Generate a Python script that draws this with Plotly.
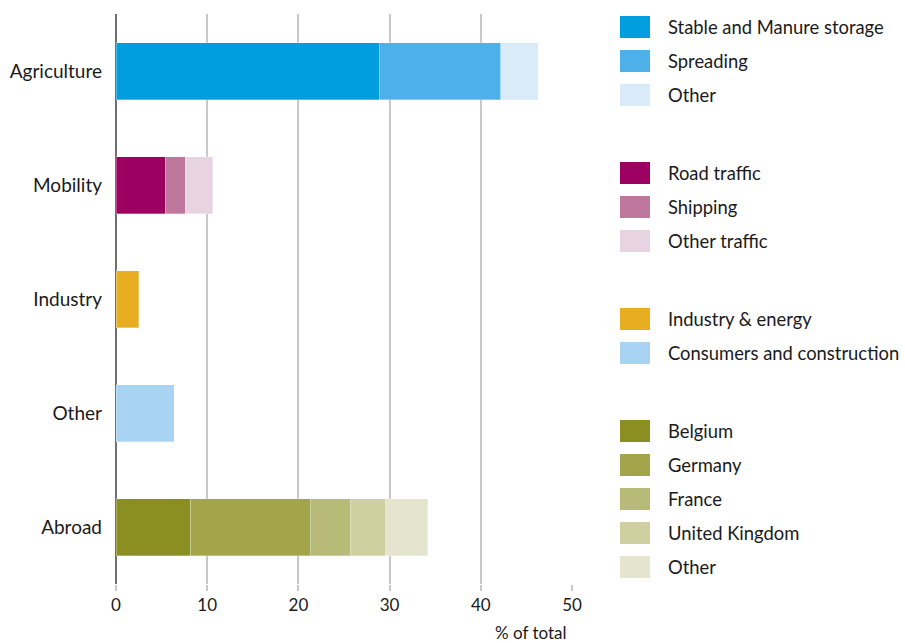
import plotly.graph_objects as go

categories = ["Agriculture", "Mobility", "Industry", "Other", "Abroad"]

agri_names = ["Stable and Manure storage", "Spreading", "Other"]
agri_values = [28.9, 13.3, 4.1]
agri_colors = ["#009DDF", "#4DB0E8", "#D9EAF9"]

mob_names = ["Road traffic", "Shipping", "Other traffic"]
mob_values = [5.4, 2.2, 3.0]
mob_colors = ["#9C0060", "#BE779D", "#E8D3E1"]

ind_names = ["Industry & energy"]
ind_values = [2.5]
ind_colors = ["#E8AE22"]

oth_names = ["Consumers and construction"]
oth_values = [6.4]
oth_colors = ["#A8D3F3"]

abr_names = ["Belgium", "Germany", "France", "United Kingdom", "Other"]
abr_values = [8.2, 13.1, 4.4, 3.9, 4.6]
abr_colors = ["#8B8F22", "#A2A549", "#B8BA77", "#CFCF9F", "#E5E5CF"]

groups = [
    ("Agriculture", agri_names, agri_values, agri_colors),
    ("Mobility", mob_names, mob_values, mob_colors),
    ("Industry", ind_names, ind_values, ind_colors),
    ("Other", oth_names, oth_values, oth_colors),
    ("Abroad", abr_names, abr_values, abr_colors),
]

# legend blocks (Industry and Other share one block)
legend_blocks = [
    list(zip(agri_names, agri_colors)),
    list(zip(mob_names, mob_colors)),
    list(zip(ind_names, ind_colors)) + list(zip(oth_names, oth_colors)),
    list(zip(abr_names, abr_colors)),
]

FONT = "Lato, 'Open Sans', sans-serif"
fig = go.Figure()
for cat, names, vals, cols in groups:
    for n, v, c in zip(names, vals, cols):
        fig.add_trace(go.Bar(
            y=[cat], x=[v], name=n, orientation="h",
            marker=dict(color=c, line=dict(color="rgba(255,255,255,0.5)", width=0.6)),
            width=0.5, showlegend=False,
        ))

W, H = 905, 643
L, R, T, B = 116, 333, 14, 59
pw = W - L - R
ph = H - T - B

def px_x(p):
    return (p - L) / pw

def px_y(p):
    return (H - B - p) / ph

shapes = []
annotations = []
row_y = 27
for block in legend_blocks:
    for n, c in block:
        shapes.append(dict(type="rect", xref="paper", yref="paper",
                           x0=px_x(620), x1=px_x(650), y0=px_y(row_y + 11), y1=px_y(row_y - 11),
                           fillcolor=c, line=dict(width=0)))
        annotations.append(dict(xref="paper", yref="paper", x=px_x(666), y=px_y(row_y),
                                text=n, showarrow=False, xanchor="left", yanchor="middle",
                                font=dict(family=FONT, size=18.4, color="#1a1a1a")))
        row_y += 34
    row_y += 44

annotations.append(dict(xref="paper", yref="paper", x=px_x(569), y=px_y(632),
                        text="% of total", showarrow=False, xanchor="right", yanchor="middle",
                        font=dict(family=FONT, size=17, color="#1a1a1a")))

fig.update_layout(
    width=W, height=H,
    margin=dict(l=L, r=R, t=T, b=B, autoexpand=False),
    barmode="stack",
    plot_bgcolor="white", paper_bgcolor="white",
    font=dict(family=FONT, size=19, color="#1a1a1a"),
    shapes=shapes, annotations=annotations,
    xaxis=dict(range=[0, 50], tickvals=[0, 10, 20, 30, 40, 50],
               showgrid=True, gridcolor="#C8C8C8", gridwidth=1.5,
               zeroline=True, zerolinecolor="#707070", zerolinewidth=1.5,
               ticks="outside", ticklen=6, tickcolor="#C8C8C8", tickwidth=1.5,
               tickfont=dict(size=17), showline=False, fixedrange=True,
               automargin=False),
    yaxis=dict(categoryorder="array", categoryarray=categories, autorange="reversed",
               showgrid=False, ticks="", tickfont=dict(size=19), showline=False,
               ticklabelstandoff=13, automargin=False),
)

fig.write_html("out.html", config={"displayModeBar": False},
               post_script="document.body.style.margin='0';")
